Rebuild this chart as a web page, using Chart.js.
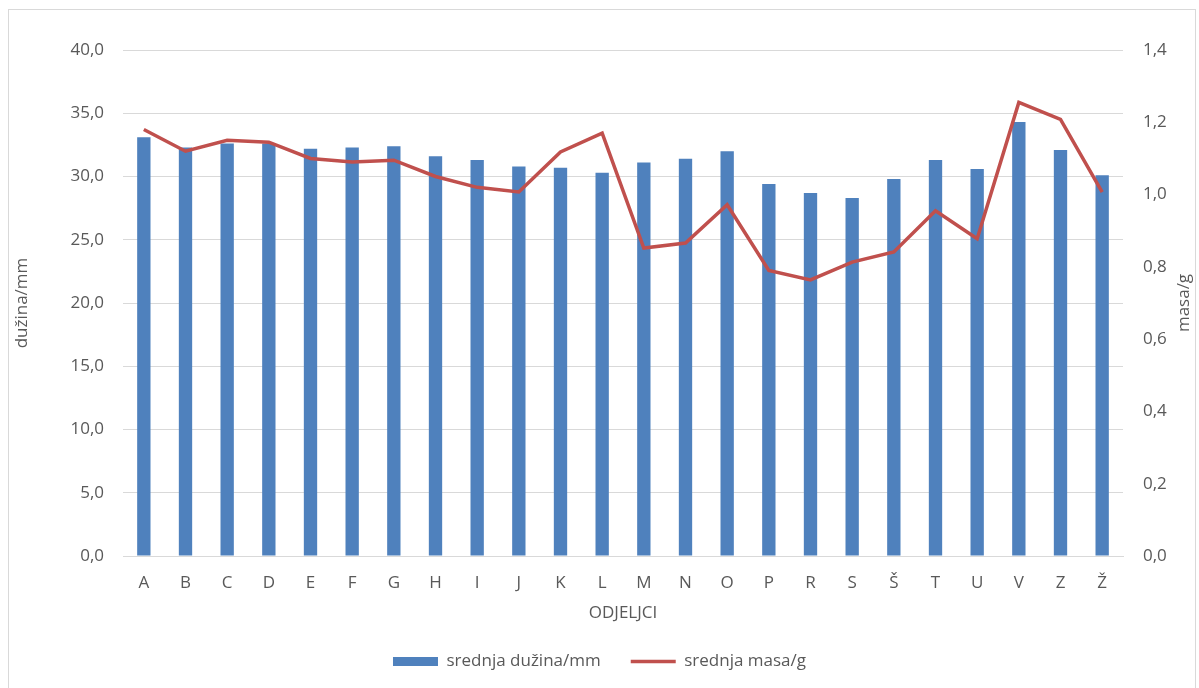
<!DOCTYPE html>
<html>
<head>
<meta charset="utf-8">
<script src="https://cdn.jsdelivr.net/npm/chart.js@4"></script>
<style>
  html, body { margin: 0; padding: 0; background: #fff; }
  #wrap { position: relative; width: 1199px; height: 688px; overflow: hidden; }
  #frame { position: absolute; left: 8px; top: 9px; width: 1188px; height: 700px; border: 1.5px solid #d9d9d9; box-sizing: border-box; }
  #chart { position: absolute; left: 0; top: 0; }
</style>
</head>
<body>
<div id="wrap">
  <div id="frame"></div>
  <canvas id="chart" width="1199" height="688"></canvas>
</div>
<script>
const odjeljci = ['A', 'B', 'C', 'D', 'E', 'F', 'G', 'H', 'I', 'J', 'K', 'L', 'M', 'N', 'O', 'P', 'R', 'S', 'Š', 'T', 'U', 'V', 'Z', 'Ž'];
const srednjaDuzina = [33.1, 32.3, 32.6, 32.6, 32.2, 32.3, 32.4, 31.6, 31.3, 30.8, 30.7, 30.3, 31.1, 31.4, 32.0, 29.4, 28.7, 28.3, 29.8, 31.3, 30.6, 34.3, 32.1, 30.1];
const srednjaMasa = [1.18, 1.12, 1.15, 1.145, 1.10, 1.09, 1.095, 1.05, 1.02, 1.007, 1.118, 1.17, 0.852, 0.866, 0.972, 0.79, 0.764, 0.813, 0.841, 0.955, 0.878, 1.255, 1.208, 1.007];

const duzinaAxis = { min: 0, max: 40, step: 5 };
const masaAxis = { min: 0, max: 1.4, step: 0.2 };
const seriesNames = ['srednja dužina/mm', 'srednja masa/g'];
const xTitle = 'ODJELJCI';
const leftTitle = 'dužina/mm';
const rightTitle = 'masa/g';

const FONT = "'Open Sans', sans-serif";
const GREY = '#595959';
const fmt = v => Number(v).toFixed(1).replace('.', ',');

// secondary axis title, rotated to read bottom-to-top like the left one
const rightTitlePlugin = {
  id: 'rightTitle',
  afterDraw(chart) {
    const { ctx, chartArea } = chart;
    const s = chart.scales.y1;
    ctx.save();
    ctx.translate(s.right - 15, (chartArea.top + chartArea.bottom) / 2);
    ctx.rotate(-Math.PI / 2);
    ctx.font = '17px ' + FONT;
    ctx.fillStyle = GREY;
    ctx.textAlign = 'center';
    ctx.textBaseline = 'middle';
    ctx.fillText(rightTitle, 0, 0);
    ctx.restore();
  }
};

new Chart(document.getElementById('chart'), {
  type: 'bar',
  data: {
    labels: odjeljci,
    datasets: [
      {
        label: seriesNames[0],
        data: srednjaDuzina,
        yAxisID: 'y',
        backgroundColor: '#4f81bd',
        borderWidth: 0,
        barPercentage: 0.32,
        categoryPercentage: 1,
        pointStyle: 'rect',
        order: 2
      },
      {
        type: 'line',
        label: seriesNames[1],
        data: srednjaMasa,
        yAxisID: 'y1',
        borderColor: '#c0504d',
        backgroundColor: '#c0504d',
        borderWidth: 3.5,
        pointRadius: 0,
        pointStyle: 'line',
        tension: 0,
        order: 1
      }
    ]
  },
  options: {
    responsive: false,
    animation: false,
    layout: { padding: { top: 50, left: 0, right: 0, bottom: 8 } },
    plugins: {
      tooltip: { enabled: false },
      legend: {
        position: 'bottom',
        labels: {
          usePointStyle: true,
          pointStyleWidth: 45,
          boxHeight: 9,
          padding: 30,
          color: GREY,
          font: { family: FONT, size: 17 },
          sort: (a, b) => a.datasetIndex - b.datasetIndex
        }
      }
    },
    scales: {
      x: {
        offset: true,
        grid: { display: false, drawTicks: false },
        border: { display: true, color: '#d9d9d9', width: 1 },
        ticks: { color: GREY, font: { family: FONT, size: 17 }, padding: 17, maxRotation: 0, autoSkip: false },
        title: { display: true, text: xTitle, color: GREY, font: { family: FONT, size: 17 }, padding: { top: 0, bottom: 0 } },
        afterFit: s => { s.height = 67; }
      },
      y: {
        position: 'left',
        min: duzinaAxis.min,
        max: duzinaAxis.max,
        grid: { color: '#d9d9d9', drawTicks: false },
        border: { display: false },
        ticks: { stepSize: duzinaAxis.step, color: GREY, font: { family: FONT, size: 17 }, padding: 19, callback: fmt },
        title: { display: true, text: leftTitle, color: GREY, font: { family: FONT, size: 17 }, padding: { top: 12, bottom: 0 } },
        afterFit: s => { s.width = 123; }
      },
      y1: {
        position: 'right',
        min: masaAxis.min,
        max: masaAxis.max,
        grid: { display: false, drawTicks: false },
        border: { display: false },
        ticks: { stepSize: masaAxis.step, color: GREY, font: { family: FONT, size: 17 }, padding: 20, callback: fmt },
        afterFit: s => { s.width = 76; }
      }
    }
  },
  plugins: [rightTitlePlugin]
});
</script>
</body>
</html>
